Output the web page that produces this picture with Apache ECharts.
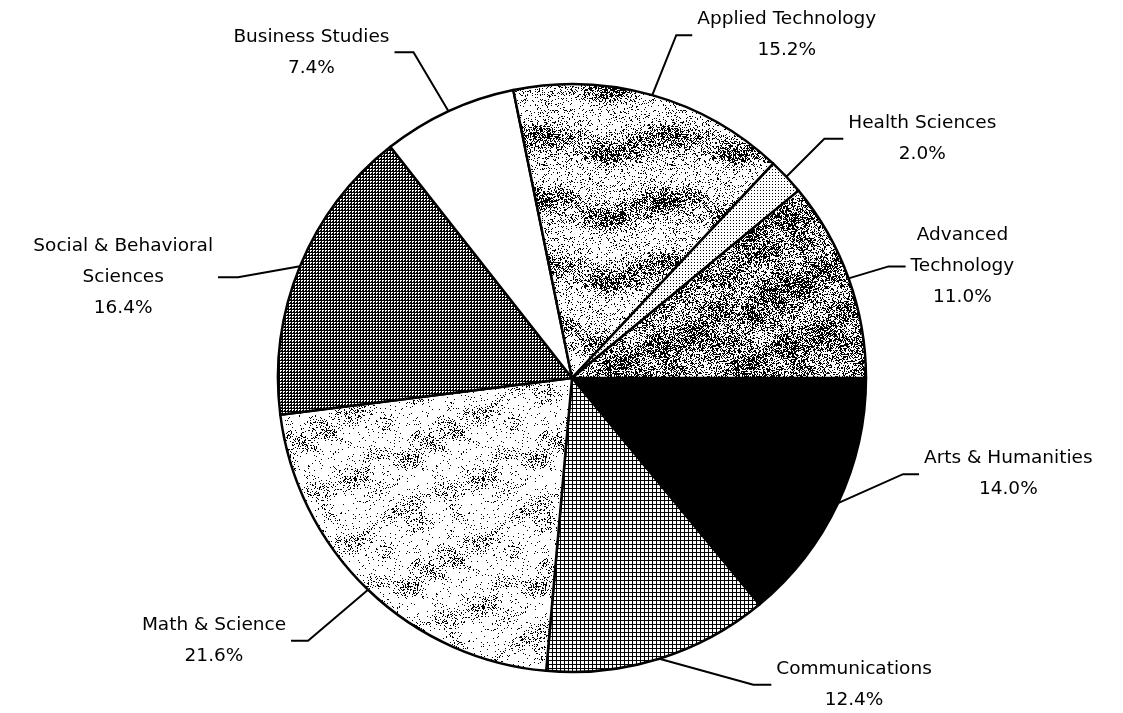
<!DOCTYPE html>
<html>
<head>
<meta charset="utf-8">
<script src="https://cdn.jsdelivr.net/npm/echarts@6/dist/echarts.min.js"></script>
<style>
  html, body { margin: 0; padding: 0; background: #fff; }
  #main { width: 1123px; height: 713px; }
</style>
</head>
<body>
<div id="main"></div>
<script>
// slices, clockwise from 3 o'clock
var categories = ['Arts & Humanities', 'Communications', 'Math & Science', 'Social & Behavioral\nSciences',
    'Business Studies', 'Applied Technology', 'Health Sciences', 'Advanced\nTechnology'];
var shares = [14.0, 12.4, 21.6, 16.4, 7.4, 15.2, 2.0, 11.0];

// leader line bend (dx, dy from slice edge) and horizontal run, per label
var bends = [[65, -29], [94, 26], [-60, 51], [-62, 11], [-35, -59], [24, -60], [38, -38], [40, -12]];
var runs = [16, 18, 17, 20, 19, 16, 19, 17];

function hash(x, y) {
    var s = Math.sin(x * 127.1 + y * 311.7) * 43758.5453;
    return s - Math.floor(s);
}

function texture(size, fn) {
    var c = document.createElement('canvas');
    c.width = size; c.height = size;
    var ctx = c.getContext('2d');
    var img = ctx.createImageData(size, size);
    for (var y = 0; y < size; y++) {
        for (var x = 0; x < size; x++) {
            var v = fn(x, y) ? 0 : 255;
            var i = (y * size + x) * 4;
            img.data[i] = v; img.data[i + 1] = v; img.data[i + 2] = v; img.data[i + 3] = 255;
        }
    }
    ctx.putImageData(img, 0, 0);
    return { image: c, repeat: 'repeat' };
}

var TAU = Math.PI * 2;
// smooth blotchy field in 0..1, tiles over 128px
function blot(x, y) {
    var a = Math.sin(TAU * x / 64 + 1.7 * Math.sin(TAU * y / 128));
    var b = Math.cos(TAU * y / 42.67 + 1.3 * Math.sin(TAU * x / 128));
    var c = Math.sin(TAU * (x + 2 * y) / 128);
    return (a * b + 0.5 * c + 1.5) / 3;
}

var fills = [
    '#000',
    texture(4, function (x, y) { return x === 0 || y === 0; }),
    texture(128, function (x, y) {
        var d = 0.04 + 0.3 * Math.max(0, blot(x, y) - 0.45) * 2;
        return hash(x, y) < d;
    }),
    texture(3, function (x, y) { return x === 0 || y === 0 || (x + y) % 3 === 1; }),
    '#fff',
    texture(128, function (x, y) {
        var d = 0.12 + 0.55 * Math.max(0, Math.sin(TAU * y / 64 + 0.8 * Math.sin(TAU * x / 128)) * blot(x, y) + 0.15);
        return hash(x, y) < d;
    }),
    texture(3, function (x, y) { return x === 1 && y === 1; }),
    texture(128, function (x, y) {
        var d = 0.25 + 0.45 * blot(x + 40, y + 17);
        return hash(x, y) < d;
    })
];

var dom = document.getElementById('main');
var myChart = echarts.init(dom, null, { renderer: 'canvas' });

var option = {
    backgroundColor: '#fff',
    animation: false,
    series: [
        {
            type: 'pie',
            center: [572, 378],
            radius: 294,
            startAngle: 0,
            clockwise: true,
            avoidLabelOverlap: false,
            silent: true,
            itemStyle: {
                borderColor: '#000',
                borderWidth: 2.5
            },
            label: {
                show: true,
                position: 'outside',
                color: '#000',
                fontFamily: 'DejaVu Sans',
                fontSize: 18.5,
                lineHeight: 31,
                formatter: function (p) {
                    return p.name + '\n' + p.value.toFixed(1) + '%';
                }
            },
            labelLine: {
                show: true,
                length: 20,
                length2: 20,
                lineStyle: { color: '#000', width: 2 }
            },
            labelLayout: function (params) {
                var i = params.dataIndex;
                var p0 = params.labelLinePoints[0];
                var b = bends[i];
                var dir = b[0] < 0 ? -1 : 1;
                var p1 = [p0[0] + b[0], p0[1] + b[1]];
                var p2 = [p1[0] + dir * runs[i], p1[1]];
                return {
                    x: p2[0] + dir * (5 + params.labelRect.width / 2),
                    y: p2[1],
                    align: 'center',
                    verticalAlign: 'middle',
                    labelLinePoints: [p0, p1, p2]
                };
            },
            data: categories.map(function (name, i) {
                return { name: name, value: shares[i], itemStyle: { color: fills[i] } };
            })
        }
    ]
};

myChart.setOption(option);
</script>
</body>
</html>
